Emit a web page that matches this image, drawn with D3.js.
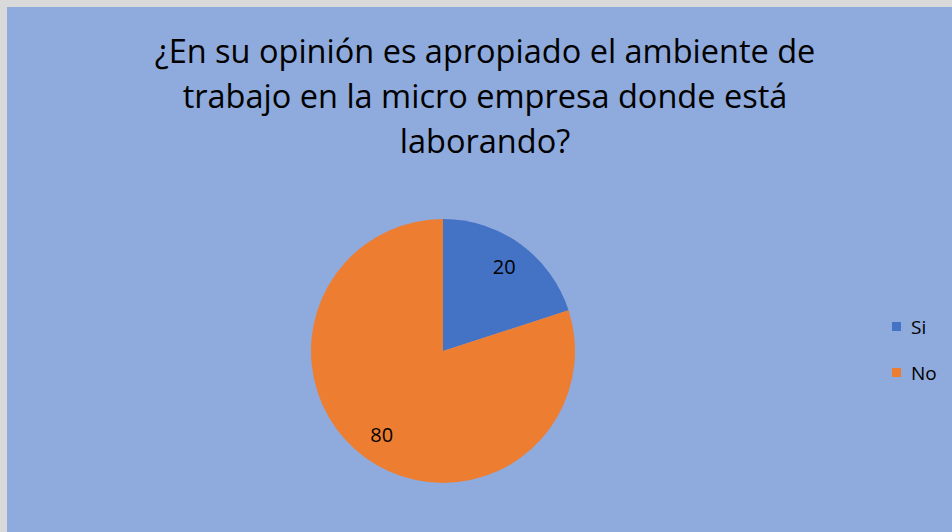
<!DOCTYPE html>
<html>
<head>
<meta charset="utf-8">
<script src="https://cdn.jsdelivr.net/npm/d3@7"></script>
<style>
  body { margin: 0; background: #ffffff; }
  text { font-family: "Open Sans", "Liberation Sans", sans-serif; }
</style>
</head>
<body>
<div id="chart"></div>
<script>
var titleLines = ["¿En su opinión es apropiado el ambiente de", "trabajo en la micro empresa donde está", "laborando?"];
var categories = ["Si", "No"];
var values = [20, 80];
var colors = ["#4472C4", "#ED7D31"];

var W = 952, H = 532;
var svg = d3.select("#chart").append("svg")
    .attr("width", W)
    .attr("height", H);

// frame
svg.append("rect").attr("x", 0).attr("y", 0).attr("width", W).attr("height", H).attr("fill", "#d9d9d9");
svg.append("rect").attr("x", 7).attr("y", 7).attr("width", W - 7).attr("height", H - 7).attr("fill", "#8FAADC");

// title
svg.append("g").selectAll("text")
    .data(titleLines)
    .enter()
    .append("text")
    .attr("x", 485)
    .attr("y", function(d, i){ return 63 + i * 45; })
    .attr("text-anchor", "middle")
    .attr("font-size", "32.5px")
    .attr("fill", "#000")
    .text(function(d){ return d; });

// pie
var cx = 443, cy = 351, r = 132;
var pie = d3.pie().sort(null).value(function(d){ return d.v; });
var data = categories.map(function(c, i){ return {c: c, v: values[i], col: colors[i]}; });
var arcs = pie(data);
var arc = d3.arc().innerRadius(0).outerRadius(r);
var labelArc = d3.arc().innerRadius(r * 0.79).outerRadius(r * 0.79);

var g = svg.append("g").attr("transform", "translate(" + cx + "," + cy + ")");
g.selectAll("path")
    .data(arcs)
    .enter()
    .append("path")
    .attr("d", arc)
    .attr("fill", function(d){ return d.data.col; });

g.selectAll("text")
    .data(arcs)
    .enter()
    .append("text")
    .attr("transform", function(d){ return "translate(" + labelArc.centroid(d) + ")"; })
    .attr("text-anchor", "middle")
    .attr("dy", "0.35em")
    .attr("font-size", "20px")
    .attr("fill", "#000")
    .text(function(d){ return d.data.v; });

// legend
var leg = svg.append("g").selectAll("g")
    .data(data)
    .enter()
    .append("g")
    .attr("transform", function(d, i){ return "translate(892," + (322 + i * 46) + ")"; });
leg.append("rect").attr("width", 9).attr("height", 9).attr("fill", function(d){ return d.col; });
leg.append("text")
    .attr("x", 19)
    .attr("y", 5)
    .attr("dy", "0.35em")
    .attr("font-size", "19px")
    .attr("fill", "#000")
    .text(function(d){ return d.c; });
</script>
</body>
</html>
